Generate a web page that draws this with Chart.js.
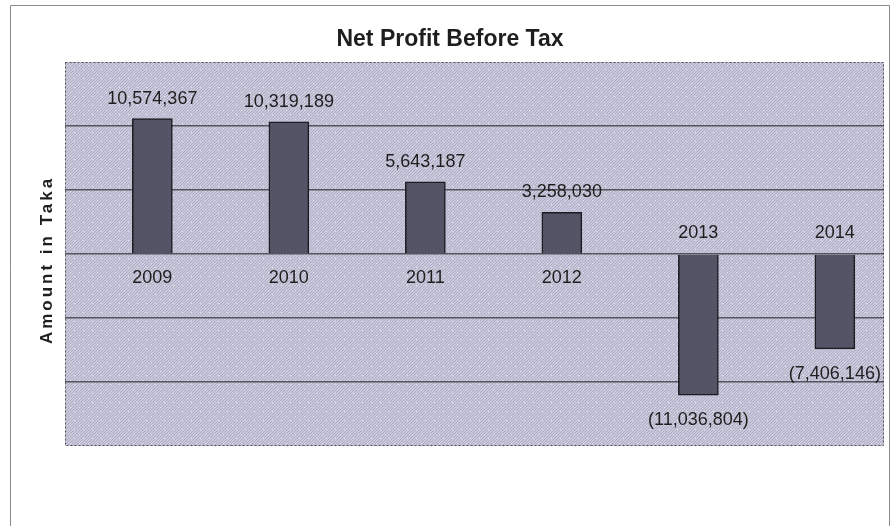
<!DOCTYPE html>
<html>
<head>
<meta charset="utf-8">
<script src="https://cdn.jsdelivr.net/npm/chart.js@4"></script>
<style>
  html, body { margin: 0; padding: 0; background: #fff; }
  #wrap { width: 893px; height: 526px; }
</style>
</head>
<body>
<div id="wrap"><canvas id="chart" width="893" height="526"></canvas></div>
<script>
// Data
const years = ['2009', '2010', '2011', '2012', '2013', '2014'];
const profit = [10574367, 10319189, 5643187, 3258030, -11036804, -7406146];
const axisMin = -15000000;
const axisMax = 15000000;
const axisStep = 5000000;

const textColor = '#1e1e1e';
const font = '"Liberation Sans", Arial, sans-serif';

// texture for the plot area
function makeTexture() {
  const c = document.createElement('canvas');
  c.width = 9; c.height = 9;
  const g = c.getContext('2d');
  g.fillStyle = '#c9c8dc';
  g.fillRect(0, 0, 9, 9);
  g.strokeStyle = 'rgba(110,110,130,0.3)';
  g.lineWidth = 1;
  for (let k = -9; k <= 18; k += 3) {
    g.beginPath(); g.moveTo(k, 9); g.lineTo(k + 9, 0); g.stroke();
  }
  g.fillStyle = 'rgba(255,255,255,0.6)';
  g.fillRect(2, 6, 1, 1);
  g.fillRect(7, 2, 1, 1);
  return c;
}

function fmt(v) {
  const s = Math.abs(v).toLocaleString('en-US');
  return v < 0 ? '(' + s + ')' : s;
}

const backdrop = {
  id: 'backdrop',
  beforeDraw(chart) {
    const { ctx, chartArea: a } = chart;
    ctx.save();
    ctx.fillStyle = '#fff';
    ctx.fillRect(0, 0, chart.width, chart.height);
    // outer frame
    ctx.strokeStyle = '#8a8a8a';
    ctx.lineWidth = 1;
    ctx.beginPath();
    ctx.moveTo(10.5, chart.height);
    ctx.lineTo(10.5, 5.5);
    ctx.lineTo(889.5, 5.5);
    ctx.lineTo(889.5, chart.height);
    ctx.stroke();
    // plot fill
    ctx.fillStyle = ctx.createPattern(makeTexture(), 'repeat');
    ctx.fillRect(a.left, a.top, a.right - a.left, a.bottom - a.top);
    ctx.restore();
  },
  afterDraw(chart) {
    const { ctx, chartArea: a } = chart;
    ctx.save();
    ctx.strokeStyle = '#555';
    ctx.setLineDash([2, 2]);
    ctx.lineWidth = 1;
    ctx.strokeRect(a.left + 0.5, a.top + 0.5, a.right - a.left - 1, a.bottom - a.top - 1);
    ctx.setLineDash([]);

    // title
    ctx.fillStyle = textColor;
    ctx.textAlign = 'center';
    ctx.textBaseline = 'middle';
    ctx.font = 'bold 23px ' + font;
    ctx.fillText('Net Profit Before Tax', 450, 40);

    // y axis title
    ctx.translate(47, 260);
    ctx.rotate(-Math.PI / 2);
    ctx.font = 'bold 17px ' + font;
    ctx.letterSpacing = '3px';
    ctx.fillText('Amount in Taka', 0, 0);
    ctx.restore();

    // data labels and category labels
    const meta = chart.getDatasetMeta(0);
    const zero = chart.scales.y.getPixelForValue(0);
    ctx.save();
    ctx.fillStyle = textColor;
    ctx.textAlign = 'center';
    ctx.textBaseline = 'middle';
    ctx.font = '18px ' + font;
    meta.data.forEach((bar, i) => {
      const v = profit[i];
      if (v >= 0) {
        ctx.fillText(fmt(v), bar.x, bar.y - 20);
        ctx.fillText(years[i], bar.x, zero + 24);
      } else {
        ctx.fillText(fmt(v), bar.x, bar.y + 25);
        ctx.fillText(years[i], bar.x, zero - 21);
      }
    });
    ctx.restore();
  }
};

new Chart(document.getElementById('chart').getContext('2d'), {
  type: 'bar',
  data: {
    datasets: [{
      data: profit.map((v, i) => ({ x: i, y: v })),
      backgroundColor: '#555466',
      borderColor: '#1b1b22',
      borderWidth: 1.5,
      barThickness: 40
    }]
  },
  options: {
    responsive: false,
    animation: false,
    layout: { padding: { left: 65, right: 9, top: 62, bottom: 80 } },
    plugins: { legend: { display: false }, title: { display: false }, tooltip: { enabled: false } },
    scales: {
      x: { type: 'linear', display: false, min: -0.64, max: 5.36, offset: false },
      y: {
        min: axisMin,
        max: axisMax,
        ticks: { stepSize: axisStep, display: false },
        border: { display: false },
        grid: {
          drawTicks: false,
          lineWidth: 1.5,
          color: ctx => (ctx.tick.value === axisMin || ctx.tick.value === axisMax) ? 'rgba(0,0,0,0)' : '#55555f'
        }
      }
    }
  },
  plugins: [backdrop]
});
</script>
</body>
</html>
